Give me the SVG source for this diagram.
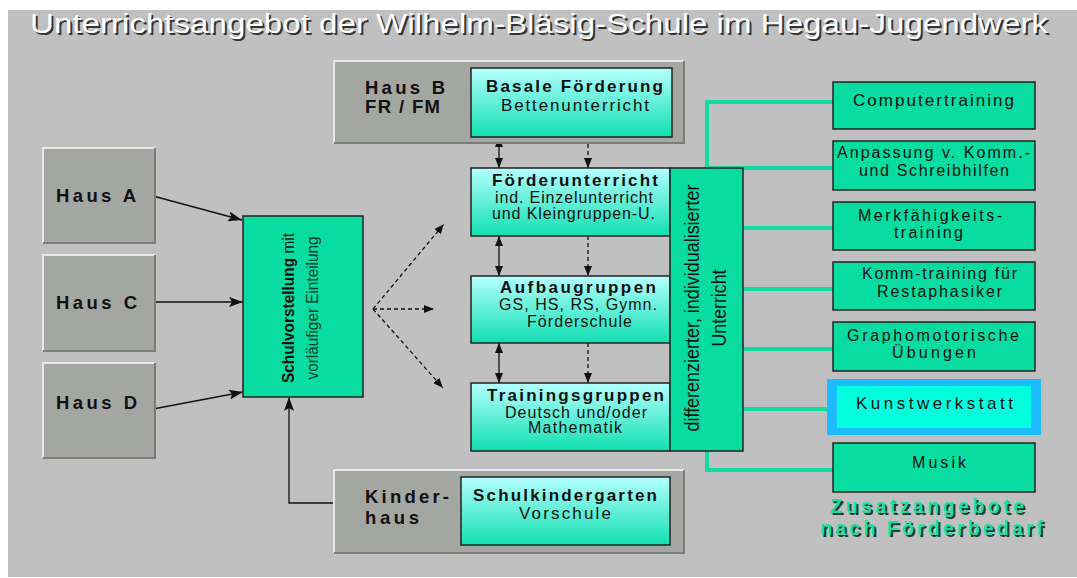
<svg xmlns="http://www.w3.org/2000/svg" width="1077" height="578" viewBox="0 0 1077 578">
<style>
text{font-family:"Liberation Sans",Arial,sans-serif;fill:#111;}
.b{font-weight:bold;}
.grey{fill:#a4a6a1;}
.hl{stroke:#e8e8e8;stroke-width:2;fill:none;}
.sh{stroke:#7c7c7c;stroke-width:2;fill:none;}
.teal{fill:#08dca0;stroke:#222;stroke-width:1.5;}
.grad{fill:url(#g);stroke:#222;stroke-width:1.5;}
.con{stroke:#10dca0;stroke-width:4;fill:none;}
.ar{stroke:#111;stroke-width:1.3;fill:none;}
.da{stroke:#111;stroke-width:1.3;fill:none;stroke-dasharray:4 3;}
.t15{font-size:16px;}
.t16{font-size:17px;}
.t17{font-size:18.5px;}
</style>
<defs>
<linearGradient id="g" x1="0" y1="0" x2="0" y2="1">
<stop offset="0" stop-color="#b4ffff"/>
<stop offset="1" stop-color="#10e0b0"/>
</linearGradient>
<marker id="ah" markerUnits="userSpaceOnUse" markerWidth="10" markerHeight="8" refX="10" refY="4" orient="auto-start-reverse">
<path d="M0,0 L10,4 L0,8 z" fill="#111"/>
</marker>
<marker id="big" markerUnits="userSpaceOnUse" markerWidth="14" markerHeight="10" refX="14" refY="5" orient="auto">
<path d="M0,0 L14,5 L0,10 L3,5 z" fill="#111"/>
</marker>
</defs>
<rect x="0" y="0" width="1077" height="578" fill="#ffffff"/>
<rect x="8" y="10" width="1069" height="567" fill="#c0c0c0"/>
<g id="title">
<text x="32" y="35" font-size="27" textLength="1018" lengthAdjust="spacingAndGlyphs" style="fill:#333">Unterrichtsangebot der Wilhelm-Bläsig-Schule im Hegau-Jugendwerk</text>
<text x="30" y="33" font-size="27" textLength="1018" lengthAdjust="spacingAndGlyphs" style="fill:#ffffff">Unterrichtsangebot der Wilhelm-Bläsig-Schule im Hegau-Jugendwerk</text>
</g>
<g id="connectors">
<path class="con" d="M707,168 V102 H833"/>
<path class="con" d="M707,168 H833"/>
<path class="con" d="M743,228 H833"/>
<path class="con" d="M743,289 H833"/>
<path class="con" d="M743,349 H833"/>
<path class="con" d="M743,409 H827"/>
<path class="con" d="M707,451 V470 H833"/>
<path class="ar" d="M153,196 L242,220" marker-end="url(#big)"/>
<path class="ar" d="M153,302 L243,302" marker-end="url(#big)"/>
<path class="ar" d="M153,409 L243,392" marker-end="url(#big)"/>
<path class="ar" d="M335,503 H289 V397" marker-end="url(#big)"/>
<path class="ar" d="M499,168 V137" marker-start="url(#ah)" marker-end="url(#ah)"/>
<path class="ar" d="M499,236 V276" marker-start="url(#ah)" marker-end="url(#ah)"/>
<path class="ar" d="M499,343 V383" marker-start="url(#ah)" marker-end="url(#ah)"/>
<path class="da" d="M588,137 V168" marker-end="url(#ah)"/>
<path class="da" d="M588,236 V276" marker-end="url(#ah)"/>
<path class="da" d="M588,343 V383" marker-end="url(#ah)"/>
<path class="da" d="M373,309 L444,224" marker-end="url(#ah)"/>
<path class="da" d="M373,309 L434,309" marker-end="url(#ah)"/>
<path class="da" d="M373,309 L443,388" marker-end="url(#ah)"/>
</g>
<g id="hausA">
<rect class="grey" x="43" y="148" width="112" height="95"/>
<path class="hl" d="M43,243 V148 H155"/><path class="sh" d="M155,148 V243 H43"/>
<text class="b t17" x="56" y="202" textLength="80" lengthAdjust="spacing">Haus A</text>
</g>
<g id="hausC">
<rect class="grey" x="43" y="255" width="112" height="96"/>
<path class="hl" d="M43,351 V255 H155"/><path class="sh" d="M155,255 V351 H43"/>
<text class="b t17" x="56" y="309" textLength="81" lengthAdjust="spacing">Haus C</text>
</g>
<g id="hausD">
<rect class="grey" x="43" y="363" width="112" height="95"/>
<path class="hl" d="M43,458 V363 H155"/><path class="sh" d="M155,363 V458 H43"/>
<text class="b t17" x="56" y="409" textLength="81" lengthAdjust="spacing">Haus D</text>
</g>
<g id="schulvorstellung">
<rect class="teal" x="243" y="216" width="120" height="181"/>
<text transform="translate(294,308) rotate(-90)" text-anchor="middle" font-size="17" textLength="150" lengthAdjust="spacingAndGlyphs"><tspan class="b">Schulvorstellung</tspan> mit</text>
<text transform="translate(318,308) rotate(-90)" text-anchor="middle" font-size="17" textLength="143" lengthAdjust="spacingAndGlyphs" style="fill:#0a3a2a">vorläufiger Einteilung</text>
</g>
<g id="hausB">
<rect class="grey" x="334" y="61" width="350" height="82"/>
<path class="hl" d="M334,143 V61 H684"/><path class="sh" d="M684,61 V143 H334"/>
<text class="b t17" x="365" y="94" textLength="80" lengthAdjust="spacing">Haus B</text>
<text class="b t17" x="365" y="113" textLength="75" lengthAdjust="spacing">FR / FM</text>
</g>
<g id="basale">
<rect class="grad" x="471" y="68" width="201" height="69"/>
<text class="b t16" x="486" y="92" textLength="177" lengthAdjust="spacing">Basale Förderung</text>
<text class="t16" x="501" y="111" textLength="148" lengthAdjust="spacing">Bettenunterricht</text>
</g>
<g id="foerderunterricht">
<rect class="grad" x="471" y="168" width="199" height="68"/>
<text class="b t16" x="492" y="186" textLength="166" lengthAdjust="spacing">Förderunterricht</text>
<text class="t15" x="495" y="203" textLength="158" lengthAdjust="spacing">ind. Einzelunterricht</text>
<text class="t15" x="492" y="219" textLength="163" lengthAdjust="spacing">und Kleingruppen-U.</text>
</g>
<g id="aufbaugruppen">
<rect class="grad" x="471" y="276" width="199" height="67"/>
<text class="b t16" x="500" y="293" textLength="156" lengthAdjust="spacing">Aufbaugruppen</text>
<text class="t15" x="499" y="310" textLength="158" lengthAdjust="spacing">GS, HS, RS, Gymn.</text>
<text class="t15" x="527" y="327" textLength="105" lengthAdjust="spacing">Förderschule</text>
</g>
<g id="trainingsgruppen">
<rect class="grad" x="471" y="383" width="199" height="68"/>
<text class="b t16" x="487" y="401" textLength="177" lengthAdjust="spacing">Trainingsgruppen</text>
<text class="t15" x="505" y="418" textLength="142" lengthAdjust="spacing">Deutsch und/oder</text>
<text class="t15" x="528" y="433" textLength="94" lengthAdjust="spacing">Mathematik</text>
</g>
<g id="differenziert">
<rect class="teal" x="670" y="168" width="73" height="283"/>
<text transform="translate(699,308) rotate(-90)" text-anchor="middle" font-size="20" textLength="247" lengthAdjust="spacingAndGlyphs">differenzierter, individualisierter</text>
<text transform="translate(726,308) rotate(-90)" text-anchor="middle" font-size="20" textLength="77" lengthAdjust="spacingAndGlyphs">Unterricht</text>
</g>
<g id="kinderhaus">
<rect class="grey" x="334" y="470" width="350" height="83"/>
<path class="hl" d="M334,553 V470 H684"/><path class="sh" d="M684,470 V553 H334"/>
<text class="b t17" x="365" y="503" textLength="84" lengthAdjust="spacing">Kinder-</text>
<text class="b t17" x="365" y="524" textLength="54" lengthAdjust="spacing">haus</text>
</g>
<g id="schulkindergarten">
<rect class="grad" x="461" y="477" width="209" height="68"/>
<text class="b t16" x="473" y="501" textLength="184" lengthAdjust="spacing">Schulkindergarten</text>
<text class="t16" x="519" y="519" textLength="92" lengthAdjust="spacing">Vorschule</text>
</g>
<g id="computertraining">
<rect class="teal" x="833" y="82" width="202" height="47"/>
<text class="t16" x="853" y="106" textLength="161" lengthAdjust="spacing">Computertraining</text>
</g>
<g id="anpassung">
<rect class="teal" x="833" y="141" width="202" height="49"/>
<text class="t15" x="837" y="158" textLength="193" lengthAdjust="spacing">Anpassung v. Komm.-</text>
<text class="t15" x="859" y="176" textLength="150" lengthAdjust="spacing">und Schreibhilfen</text>
</g>
<g id="merkfaehigkeit">
<rect class="teal" x="833" y="202" width="202" height="48"/>
<text class="t15" x="858" y="221" textLength="144" lengthAdjust="spacing">Merkfähigkeits-</text>
<text class="t15" x="894" y="238" textLength="69" lengthAdjust="spacing">training</text>
</g>
<g id="kommtraining">
<rect class="teal" x="833" y="262" width="202" height="48"/>
<text class="t15" x="862" y="279" textLength="155" lengthAdjust="spacing">Komm-training für</text>
<text class="t15" x="877" y="297" textLength="125" lengthAdjust="spacing">Restaphasiker</text>
</g>
<g id="graphomotorik">
<rect class="teal" x="833" y="322" width="202" height="49"/>
<text class="t15" x="847" y="341" textLength="172" lengthAdjust="spacing">Graphomotorische</text>
<text class="t15" x="892" y="358" textLength="84" lengthAdjust="spacing">Übungen</text>
</g>
<g id="kunstwerkstatt">
<rect x="827" y="379" width="214" height="56" fill="#1cbcff"/>
<rect x="837" y="386" width="194" height="42" fill="#00ffdc"/>
<text class="t16" x="856" y="409" textLength="157" lengthAdjust="spacing">Kunstwerkstatt</text>
</g>
<g id="musik">
<rect class="teal" x="833" y="443" width="202" height="49"/>
<text class="t15" x="912" y="468" textLength="54" lengthAdjust="spacing">Musik</text>
</g>
<g id="footer">
<text class="b" x="832" y="515" font-size="20" textLength="194" lengthAdjust="spacing" style="fill:#1a3a30">Zusatzangebote</text>
<text class="b" x="830" y="513" font-size="20" textLength="194" lengthAdjust="spacing" style="fill:#18e0a4">Zusatzangebote</text>
<text class="b" x="822" y="537" font-size="20" textLength="223" lengthAdjust="spacing" style="fill:#1a3a30">nach Förderbedarf</text>
<text class="b" x="820" y="535" font-size="20" textLength="223" lengthAdjust="spacing" style="fill:#18e0a4">nach Förderbedarf</text>
</g>
</svg>
